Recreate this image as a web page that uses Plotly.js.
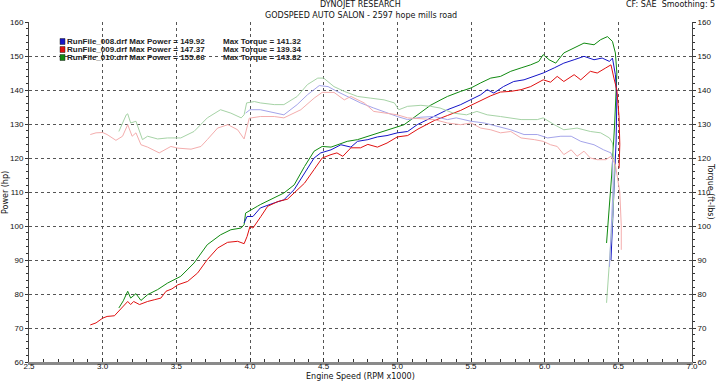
<!DOCTYPE html>
<html>
<head>
<meta charset="utf-8">
<script src="https://cdn.plot.ly/plotly-3.0.1.min.js"></script>
<style>html,body{margin:0;padding:0;background:#fff;}#chart{width:717px;height:381px;}</style>
</head>
<body>
<div id="chart"></div>
<script>
// ---- Data (RPM x1000 vs value) ----
const runNames = ["RunFile_008.drf", "RunFile_009.drf", "RunFile_010.drf"];
const maxPower = ["149.92", "147.37", "155.66"];
const maxTorque = ["141.32", "139.34", "143.82"];

// Run 008 (blue)
const p008_x = [3.96,3.98,4.02,4.07,4.165,4.23,4.30,4.37,4.435,4.48,4.55,4.617,4.685,4.73,4.80,4.865,4.93,5.0,5.07,5.135,5.2,5.25,5.34,5.43,5.5,5.566,5.61,5.655,5.72,5.79,5.86,5.93,5.99,6.065,6.13,6.20,6.267,6.335,6.39,6.44,6.46,6.48,6.49,6.485,6.47,6.455,6.45];
const p008_y = [100.9,102.8,102.8,105.3,106.8,107.7,110.7,115.6,120.0,121.5,122.4,123.9,123.2,124.9,125.4,126.2,126.6,127.4,127.8,129.8,131.2,132.5,134.2,135.7,137.1,138.6,140.1,139.1,141.0,142.5,143.0,144.0,145.0,146.5,147.9,148.9,149.9,148.9,149.4,148.4,149.4,144.5,138.0,125.0,110.0,95.0,90.0];
const t008_x = [3.97,4.0,4.07,4.165,4.23,4.32,4.39,4.47,4.53,4.59,4.66,4.75,4.84,4.93,5.0,5.07,5.16,5.25,5.34,5.40,5.5,5.59,5.68,5.77,5.86,5.95,6.02,6.11,6.18,6.245,6.335,6.40,6.45,6.46,6.465,6.455,6.44];
const t008_y = [133.2,134.2,134.2,133.2,132.7,135.7,138.6,141.3,141.0,139.6,138.1,136.2,134.7,133.2,132.2,131.3,132.0,132.2,131.3,131.8,130.8,130.3,129.3,128.3,126.9,126.9,125.9,126.4,126.4,124.9,123.9,122.4,121.5,120.0,112.0,100.0,88.0];

// Run 009 (red)
const p009_x = [2.916,2.955,3.0,3.03,3.08,3.124,3.17,3.19,3.21,3.25,3.305,3.35,3.395,3.43,3.47,3.51,3.577,3.645,3.71,3.78,3.848,3.916,3.96,3.98,4.0,4.02,4.05,4.074,4.12,4.19,4.255,4.30,4.37,4.435,4.49,4.55,4.59,4.63,4.685,4.75,4.80,4.865,4.93,5.0,5.07,5.14,5.2,5.25,5.34,5.43,5.5,5.566,5.634,5.70,5.77,5.84,5.905,5.99,6.04,6.085,6.13,6.20,6.245,6.31,6.357,6.415,6.45,6.47,6.49,6.505,6.51,6.505];
const p009_y = [70.9,71.5,72.9,73.4,73.6,75.6,77.8,76.9,77.8,76.9,77.8,78.3,78.8,80.8,81.5,82.7,83.7,86.2,90.1,93.5,95.2,95.5,94.8,96.9,99.9,99.4,101.5,102.8,105.8,107.2,107.9,109.7,112.6,116.6,120.0,121.0,121.5,120.5,123.0,123.0,124.0,123.2,124.4,126.2,126.6,128.5,130.0,131.0,132.5,134.0,135.5,137.0,138.3,139.4,139.6,140.1,141.0,143.0,142.3,144.0,142.5,144.5,143.0,145.5,145.0,146.5,147.4,143.5,140.0,132.0,124.0,117.0];
const t009_x = [2.916,2.955,3.0,3.03,3.09,3.135,3.17,3.20,3.226,3.26,3.305,3.384,3.463,3.51,3.60,3.667,3.71,3.78,3.85,3.916,3.96,3.98,3.995,4.07,4.165,4.23,4.345,4.435,4.49,4.57,4.64,4.685,4.775,4.84,4.93,5.0,5.07,5.16,5.25,5.34,5.43,5.5,5.566,5.634,5.70,5.77,5.84,5.93,5.99,6.04,6.085,6.13,6.18,6.22,6.267,6.31,6.357,6.415,6.45,6.48,6.51,6.52,6.52];
const t009_y = [126.9,127.4,127.5,126.9,125.2,126.4,129.8,126.4,127.4,123.9,123.2,121.5,123.4,122.9,122.6,123.4,125.4,128.8,129.8,128.3,125.6,128.8,131.7,132.2,132.2,131.8,134.2,137.6,139.3,139.3,137.1,138.1,136.2,133.7,133.2,132.7,131.8,131.5,131.3,130.3,129.8,130.3,128.8,128.3,127.4,127.8,125.9,125.4,124.9,123.9,123.4,121.0,122.4,120.5,122.0,120.0,119.5,119.5,120.5,118.0,110.0,100.0,93.0];

// Run 010 (green)
const p010_x = [3.11,3.14,3.17,3.19,3.226,3.26,3.305,3.373,3.44,3.53,3.62,3.71,3.80,3.87,3.94,3.96,3.97,4.006,4.05,4.07,4.14,4.23,4.30,4.37,4.435,4.49,4.55,4.59,4.66,4.73,4.80,4.865,4.93,4.995,5.046,5.1,5.16,5.225,5.29,5.34,5.43,5.5,5.566,5.634,5.70,5.77,5.84,5.905,5.96,5.99,6.03,6.075,6.13,6.20,6.267,6.335,6.38,6.426,6.46,6.48,6.49,6.475,6.455,6.42];
const p010_y = [75.9,78.0,80.8,78.8,80.1,78.1,79.8,81.3,83.2,85.2,89.1,94.5,97.4,98.9,99.4,100.4,103.8,104.8,105.8,106.3,107.7,109.7,112.1,117.5,122.0,123.4,123.2,123.9,124.9,125.4,126.4,127.4,128.3,129.3,129.8,131.5,133.5,135.5,137.0,138.1,139.6,140.6,142.1,143.5,144.0,145.5,146.5,147.4,148.4,150.4,148.9,147.9,150.9,152.4,153.8,153.3,154.8,155.7,154.3,150.9,145.0,130.0,115.0,95.0];
const t010_x = [3.11,3.16,3.17,3.19,3.226,3.27,3.305,3.373,3.44,3.53,3.62,3.71,3.80,3.87,3.94,3.96,3.977,4.03,4.07,4.165,4.23,4.32,4.39,4.46,4.50,4.57,4.64,4.73,4.82,4.91,4.98,5.01,5.07,5.16,5.225,5.29,5.38,5.47,5.54,5.61,5.70,5.77,5.84,5.95,5.99,6.065,6.13,6.22,6.31,6.38,6.44,6.46,6.475,6.465,6.44,6.42];
const t010_y = [127.8,132.7,133.0,130.3,130.8,125.4,126.4,125.6,125.9,125.9,127.8,131.8,134.2,133.2,131.8,132.7,136.2,136.6,136.2,135.7,135.7,138.1,141.6,143.5,143.5,141.0,139.6,138.1,137.6,137.1,136.2,134.2,135.2,135.5,135.2,134.7,133.2,132.7,133.7,132.7,132.2,131.8,131.3,131.3,131.8,129.8,128.3,128.8,127.8,127.4,125.9,124.4,118.0,105.0,90.0,77.4];

const xTicks = [2.5,3.0,3.5,4.0,4.5,5.0,5.5,6.0,6.5,7.0];
const yTicks = [60,70,80,90,100,110,120,130,140,150,160];

const powerColors = ["#1414c8", "#e01010", "#108a10"];
const torqueColors = ["#a4a4ea", "#f4adad", "#a6d3a6"];

const FONT = "'DejaVu Sans', Verdana, sans-serif";
const NFONT = "'Liberation Sans', Arial, sans-serif";

function line(x, y, color, yaxis) {
  return {x: x, y: y, type: "scatter", mode: "lines", yaxis: yaxis,
          line: {color: color, width: 1}, hoverinfo: "skip", showlegend: false};
}

const data = [
  line(t010_x, t010_y, torqueColors[2], "y2"),
  line(t008_x, t008_y, torqueColors[0], "y2"),
  line(t009_x, t009_y, torqueColors[1], "y2"),
  line(p010_x, p010_y, powerColors[2], "y"),
  line(p008_x, p008_y, powerColors[0], "y"),
  line(p009_x, p009_y, powerColors[1], "y")
];

const annotations = [
  {text: "DYNOJET RESEARCH", xref: "paper", yref: "paper", x: 0.5, y: 1 + 17/340, showarrow: false,
   font: {family: FONT, size: 8, color: "#111"}, xanchor: "center", yanchor: "middle"},
  {text: "GODSPEED AUTO SALON - 2597 hope mills road", xref: "paper", yref: "paper", x: 0.5, y: 1 + 7/340, showarrow: false,
   font: {family: FONT, size: 8, color: "#111"}, xanchor: "center", yanchor: "middle"},
  {text: "CF: SAE  Smoothing: 5", xref: "paper", yref: "paper", x: 1 + 25/663, y: 1 + 17/340, showarrow: false,
   font: {family: FONT, size: 8, color: "#111"}, xanchor: "right", yanchor: "middle"},
  {text: "Power (hp)", xref: "paper", yref: "paper", x: -24/663, y: 0.5, textangle: -90, showarrow: false,
   font: {family: FONT, size: 8, color: "#111"}, xanchor: "center", yanchor: "middle"},
  {text: "Torque (ft-lbs)", xref: "paper", yref: "paper", x: 1 + 19/663, y: 0.5, textangle: 90, showarrow: false,
   font: {family: FONT, size: 8, color: "#111"}, xanchor: "center", yanchor: "middle"},
  {text: "Engine Speed (RPM x1000)", xref: "paper", yref: "paper", x: 0.5, y: -14.5/340, showarrow: false,
   font: {family: FONT, size: 8, color: "#111"}, xanchor: "center", yanchor: "middle"}
];
const shapes = [];
const rowY = [1 - 19.5/340, 1 - 27.5/340, 1 - 35.5/340];
for (let i = 0; i < runNames.length; i++) {
  annotations.push({text: "<b>" + runNames[i] + " Max Power = " + maxPower[i] + "</b>", xref: "paper", yref: "paper",
    x: 36/663, y: rowY[i], showarrow: false, xanchor: "left", yanchor: "middle",
    font: {family: NFONT, size: 8, color: "#222"}});
  annotations.push({text: "<b>Max Torque = " + maxTorque[i] + "</b>", xref: "paper", yref: "paper",
    x: 192/663, y: rowY[i], showarrow: false, xanchor: "left", yanchor: "middle",
    font: {family: NFONT, size: 8, color: "#222"}});
  shapes.push({type: "rect", xref: "paper", yref: "paper",
    x0: 31/663, x1: 36/663, y0: rowY[i] - 3/340, y1: rowY[i] + 3/340,
    fillcolor: powerColors[i], line: {color: "#222", width: 0.5}});
}

const gridStyle = {showgrid: true, gridcolor: "#555", gridwidth: 1, griddash: "dot"};

const layout = {
  width: 717, height: 381,
  margin: {l: 29, r: 25, t: 22, b: 19, pad: 0},
  paper_bgcolor: "#ffffff", plot_bgcolor: "#ffffff",
  font: {family: FONT, size: 8, color: "#111"},
  showlegend: false,
  xaxis: Object.assign({
    range: [2.5, 7.0], tickvals: xTicks, ticktext: xTicks.map(v => v.toFixed(1)),
    zeroline: false, showline: true, linecolor: "#8a8a8a", linewidth: 3,
    ticks: "inside", ticklen: 4, tickcolor: "#333", ticklabelstandoff: -6,
    minor: {dtick: 0.1, ticks: "inside", ticklen: 3, tickcolor: "#333", showgrid: false},
    tickfont: {family: NFONT, size: 8, color: "#111"}
  }, gridStyle),
  yaxis: Object.assign({
    range: [60, 160], tickvals: yTicks, zeroline: false,
    showline: true, linecolor: "#444", linewidth: 1,
    ticks: "outside", ticklen: 3, tickcolor: "#333",
    minor: {dtick: 2, ticks: "outside", ticklen: 2, tickcolor: "#333", showgrid: false},
    tickfont: {family: NFONT, size: 8, color: "#111"}
  }, gridStyle),
  yaxis2: {
    range: [60, 160], tickvals: yTicks, overlaying: "y", side: "right",
    showgrid: false, zeroline: false, showline: true, linecolor: "#444", linewidth: 1,
    ticks: "outside", ticklen: 3, tickcolor: "#333",
    minor: {dtick: 2, ticks: "outside", ticklen: 2, tickcolor: "#333", showgrid: false},
    tickfont: {family: NFONT, size: 8, color: "#111"}
  },
  annotations: annotations,
  shapes: shapes
};

Plotly.newPlot("chart", data, layout, {staticPlot: true, displayModeBar: false});
</script>
</body>
</html>
